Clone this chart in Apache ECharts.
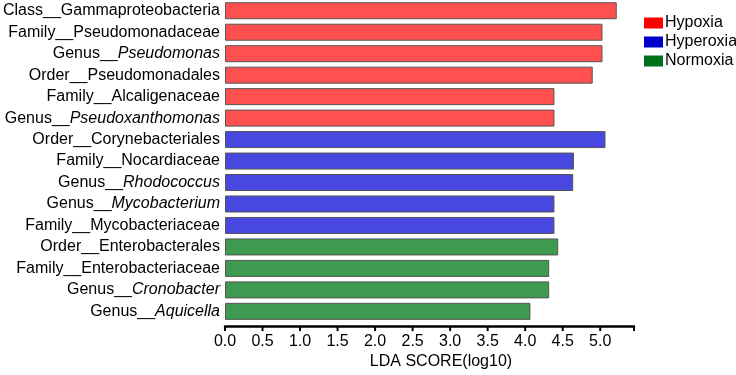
<!DOCTYPE html>
<html>
<head>
<meta charset="utf-8">
<script src="https://cdn.jsdelivr.net/npm/echarts@6/dist/echarts.min.js"></script>
<style>
  html, body { margin: 0; padding: 0; background: #fff; }
  #chart { width: 736px; height: 375px; }
</style>
</head>
<body>
<div id="chart"></div>
<script>
// taxa, top to bottom: [rank prefix, name, italic?]
const taxa = [
  ['Class__', 'Gammaproteobacteria', false],
  ['Family__', 'Pseudomonadaceae', false],
  ['Genus__', 'Pseudomonas', true],
  ['Order__', 'Pseudomonadales', false],
  ['Family__', 'Alcaligenaceae', false],
  ['Genus__', 'Pseudoxanthomonas', true],
  ['Order__', 'Corynebacteriales', false],
  ['Family__', 'Nocardiaceae', false],
  ['Genus__', 'Rhodococcus', true],
  ['Genus__', 'Mycobacterium', true],
  ['Family__', 'Mycobacteriaceae', false],
  ['Order__', 'Enterobacterales', false],
  ['Family__', 'Enterobacteriaceae', false],
  ['Genus__', 'Cronobacter', true],
  ['Genus__', 'Aquicella', true]
]
const ldaScores = [5.22, 5.03, 5.03, 4.90, 4.39, 4.39, 5.07, 4.65, 4.64, 4.39, 4.39, 4.44, 4.32, 4.32, 4.07]
const groupOf = ['Hypoxia', 'Hypoxia', 'Hypoxia', 'Hypoxia', 'Hypoxia', 'Hypoxia',
  'Hyperoxia', 'Hyperoxia', 'Hyperoxia', 'Hyperoxia', 'Hyperoxia',
  'Normoxia', 'Normoxia', 'Normoxia', 'Normoxia']
const groups = ['Hypoxia', 'Hyperoxia', 'Normoxia']
const barColors = ['#ff5050', '#4848e0', '#3d9a4e']
const legendColors = ['#ff0000', '#0000cc', '#006f1c']
const xTicks = [0, 0.5, 1, 1.5, 2, 2.5, 3, 3.5, 4, 4.5, 5]
const xMax = 5.45

const font = 'Arial, "Liberation Sans", sans-serif'
const axisOffset = 4
const chart = echarts.init(document.getElementById('chart'))

const categories = taxa.map((t) => t[0] + t[1])
const series = groups.map((g, gi) => ({
  name: g,
  type: 'bar',
  stack: 'lda',
  barWidth: 17,
  itemStyle: {
    color: barColors[gi],
    borderColor: '#555',
    borderWidth: 1,
  },
  data: ldaScores.map((v, i) => (groupOf[i] === g ? v : null)),
}))

// tick marks under the x axis line (incl. one at the axis end)
series.push({
  name: 'ticks',
  type: 'custom',
  silent: true,
  clip: false,
  z: 5,
  encode: { x: 0 },
  data: xTicks.concat([xMax]).map((v) => [v, 0]),
  renderItem: (params, api) => {
    const p = api.coord([api.value(0), 0])
    const cs = params.coordSys
    const y = cs.y + cs.height + axisOffset
    return {
      type: 'line',
      shape: { x1: p[0], y1: y, x2: p[0], y2: y + 5 },
      style: { stroke: '#000', lineWidth: 2 },
    }
  },
})

const option = {
  animation: false,
  backgroundColor: '#fff',
  grid: {
    left: 225,
    right: 102,
    top: -2,
    height: 331,
  },
  legend: {
    orient: 'vertical',
    left: 644,
    top: 15,
    padding: 0,
    itemWidth: 19,
    itemHeight: 11,
    itemGap: 3,
    icon: 'rect',
    textStyle: {
      fontFamily: font,
      fontSize: 16,
      color: '#000',
      padding: [0, 0, 0, -3],
    },
    data: groups.map((g, gi) => ({
      name: g,
      itemStyle: { color: legendColors[gi], borderWidth: 0 },
    })),
  },
  xAxis: {
    type: 'value',
    min: 0,
    max: xMax,
    interval: 0.5,
    offset: axisOffset,
    name: 'LDA SCORE(log10)',
    nameLocation: 'middle',
    nameGap: 22,
    nameTextStyle: {
      fontFamily: font,
      fontSize: 16,
      color: '#000',
      padding: [0, 0, 0, 23],
    },
    splitLine: { show: false },
    axisLine: { show: true, onZero: false, lineStyle: { color: '#000', width: 2.5 } },
    axisTick: { show: false },
    axisLabel: {
      fontFamily: font,
      fontSize: 16,
      color: '#000',
      margin: 7,
      showMaxLabel: false,
      formatter: (v) => (xTicks.includes(v) ? v.toFixed(1) : ''),
    },
  },
  yAxis: {
    type: 'category',
    inverse: true,
    data: categories,
    axisLine: { show: false },
    axisTick: { show: false },
    axisLabel: {
      margin: 5,
      formatter: (value, idx) => {
        const t = taxa[idx]
        return t[2] ? '{n|' + t[0] + '}{i|' + t[1] + '}' : '{n|' + t[0] + t[1] + '}'
      },
      rich: {
        n: { fontFamily: font, fontSize: 16, color: '#000' },
        i: { fontFamily: font, fontSize: 16, color: '#000', fontStyle: 'italic' },
      },
    },
  },
  series: series,
}
chart.setOption(option)
</script>
</body>
</html>
